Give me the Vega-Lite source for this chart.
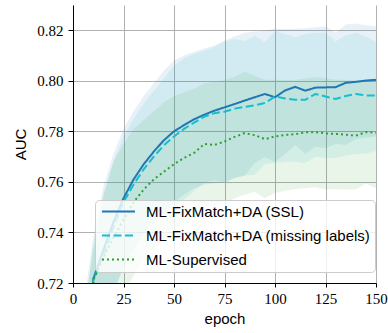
{
"$schema": "https://vega.github.io/schema/vega-lite/v6.json",
"width": 303, "height": 278,
"autosize": "none",
"padding": {"left": 73, "top": 5, "right": 12, "bottom": 50},
"config": {"view": {"stroke": null}, "font": "Liberation Sans",
 "axis": {"labelFont": "Liberation Serif", "labelFontSize": 15, "labelColor": "#000", "tickColor": "#000", "domainColor": "#000", "domainWidth": 1, "tickWidth": 1, "tickSize": 4, "labelPadding": 4, "gridColor": "#b0b0b0", "gridWidth": 1, "gridOpacity": 1, "titleFont": "Liberation Sans", "titleFontSize": 15, "titleFontWeight": "normal", "titleColor": "#000"},
 "legend": {"fillColor": "rgba(255,255,255,0.8)", "strokeColor": "#cccccc", "cornerRadius": 4, "padding": 4, "symbolType": "M-4,0L4,0", "symbolSize": 68, "symbolStrokeWidth": 2, "symbolOffset": 12, "labelFont": "Liberation Sans", "labelFontSize": 15, "labelColor": "#000", "labelOffset": 20, "rowPadding": 8, "labelLimit": 400}},
"datasets": {"d": [
{"e":5,"s":"ML-FixMatch+DA (SSL)","m":0.50,"lo":0.40,"hi":0.71},
{"e":10,"s":"ML-FixMatch+DA (SSL)","m":0.7215,"lo":0.705,"hi":0.738},
{"e":15,"s":"ML-FixMatch+DA (SSL)","m":0.733,"lo":0.708,"hi":0.758},
{"e":20,"s":"ML-FixMatch+DA (SSL)","m":0.744,"lo":0.717,"hi":0.771},
{"e":25,"s":"ML-FixMatch+DA (SSL)","m":0.7535,"lo":0.726,"hi":0.781},
{"e":30,"s":"ML-FixMatch+DA (SSL)","m":0.761,"lo":0.734,"hi":0.788},
{"e":35,"s":"ML-FixMatch+DA (SSL)","m":0.767,"lo":0.740,"hi":0.794},
{"e":40,"s":"ML-FixMatch+DA (SSL)","m":0.772,"lo":0.745,"hi":0.799},
{"e":45,"s":"ML-FixMatch+DA (SSL)","m":0.7765,"lo":0.749,"hi":0.804},
{"e":50,"s":"ML-FixMatch+DA (SSL)","m":0.780,"lo":0.752,"hi":0.808},
{"e":55,"s":"ML-FixMatch+DA (SSL)","m":0.7825,"lo":0.755,"hi":0.810},
{"e":60,"s":"ML-FixMatch+DA (SSL)","m":0.7848,"lo":0.7575,"hi":0.8115},
{"e":65,"s":"ML-FixMatch+DA (SSL)","m":0.7866,"lo":0.759,"hi":0.8128},
{"e":70,"s":"ML-FixMatch+DA (SSL)","m":0.7882,"lo":0.7595,"hi":0.814},
{"e":75,"s":"ML-FixMatch+DA (SSL)","m":0.7895,"lo":0.760,"hi":0.816},
{"e":80,"s":"ML-FixMatch+DA (SSL)","m":0.7908,"lo":0.7615,"hi":0.8175},
{"e":85,"s":"ML-FixMatch+DA (SSL)","m":0.7922,"lo":0.7625,"hi":0.819},
{"e":90,"s":"ML-FixMatch+DA (SSL)","m":0.7935,"lo":0.7675,"hi":0.8195},
{"e":95,"s":"ML-FixMatch+DA (SSL)","m":0.7948,"lo":0.7698,"hi":0.8198},
{"e":100,"s":"ML-FixMatch+DA (SSL)","m":0.7935,"lo":0.768,"hi":0.8206},
{"e":105,"s":"ML-FixMatch+DA (SSL)","m":0.7962,"lo":0.771,"hi":0.8205},
{"e":110,"s":"ML-FixMatch+DA (SSL)","m":0.7976,"lo":0.7746,"hi":0.8206},
{"e":115,"s":"ML-FixMatch+DA (SSL)","m":0.7961,"lo":0.771,"hi":0.8208},
{"e":120,"s":"ML-FixMatch+DA (SSL)","m":0.7973,"lo":0.774,"hi":0.8212},
{"e":125,"s":"ML-FixMatch+DA (SSL)","m":0.7974,"lo":0.7733,"hi":0.8216},
{"e":130,"s":"ML-FixMatch+DA (SSL)","m":0.7975,"lo":0.775,"hi":0.819},
{"e":135,"s":"ML-FixMatch+DA (SSL)","m":0.7992,"lo":0.7746,"hi":0.8223},
{"e":140,"s":"ML-FixMatch+DA (SSL)","m":0.7996,"lo":0.777,"hi":0.8227},
{"e":145,"s":"ML-FixMatch+DA (SSL)","m":0.8001,"lo":0.7775,"hi":0.822},
{"e":150,"s":"ML-FixMatch+DA (SSL)","m":0.8004,"lo":0.778,"hi":0.8216},
{"e":5,"s":"ML-FixMatch+DA (missing labels)","m":0.50,"lo":0.40,"hi":0.705},
{"e":10,"s":"ML-FixMatch+DA (missing labels)","m":0.721,"lo":0.707,"hi":0.735},
{"e":15,"s":"ML-FixMatch+DA (missing labels)","m":0.731,"lo":0.707,"hi":0.755},
{"e":20,"s":"ML-FixMatch+DA (missing labels)","m":0.742,"lo":0.716,"hi":0.768},
{"e":25,"s":"ML-FixMatch+DA (missing labels)","m":0.752,"lo":0.726,"hi":0.778},
{"e":30,"s":"ML-FixMatch+DA (missing labels)","m":0.759,"lo":0.733,"hi":0.785},
{"e":35,"s":"ML-FixMatch+DA (missing labels)","m":0.765,"lo":0.739,"hi":0.791},
{"e":40,"s":"ML-FixMatch+DA (missing labels)","m":0.770,"lo":0.744,"hi":0.796},
{"e":45,"s":"ML-FixMatch+DA (missing labels)","m":0.7745,"lo":0.748,"hi":0.801},
{"e":50,"s":"ML-FixMatch+DA (missing labels)","m":0.778,"lo":0.750,"hi":0.806},
{"e":55,"s":"ML-FixMatch+DA (missing labels)","m":0.781,"lo":0.753,"hi":0.809},
{"e":60,"s":"ML-FixMatch+DA (missing labels)","m":0.7835,"lo":0.7565,"hi":0.8105},
{"e":65,"s":"ML-FixMatch+DA (missing labels)","m":0.7858,"lo":0.7596,"hi":0.812},
{"e":70,"s":"ML-FixMatch+DA (missing labels)","m":0.7872,"lo":0.7609,"hi":0.8135},
{"e":75,"s":"ML-FixMatch+DA (missing labels)","m":0.7878,"lo":0.7595,"hi":0.8155},
{"e":80,"s":"ML-FixMatch+DA (missing labels)","m":0.789,"lo":0.7615,"hi":0.8165},
{"e":85,"s":"ML-FixMatch+DA (missing labels)","m":0.7897,"lo":0.7625,"hi":0.8158},
{"e":90,"s":"ML-FixMatch+DA (missing labels)","m":0.7903,"lo":0.7628,"hi":0.8178},
{"e":95,"s":"ML-FixMatch+DA (missing labels)","m":0.7912,"lo":0.7671,"hi":0.8153},
{"e":100,"s":"ML-FixMatch+DA (missing labels)","m":0.7938,"lo":0.7675,"hi":0.8198},
{"e":105,"s":"ML-FixMatch+DA (missing labels)","m":0.793,"lo":0.768,"hi":0.8185},
{"e":110,"s":"ML-FixMatch+DA (missing labels)","m":0.7925,"lo":0.768,"hi":0.8172},
{"e":115,"s":"ML-FixMatch+DA (missing labels)","m":0.7925,"lo":0.7675,"hi":0.8185},
{"e":120,"s":"ML-FixMatch+DA (missing labels)","m":0.7948,"lo":0.770,"hi":0.819},
{"e":125,"s":"ML-FixMatch+DA (missing labels)","m":0.7938,"lo":0.7695,"hi":0.819},
{"e":130,"s":"ML-FixMatch+DA (missing labels)","m":0.7928,"lo":0.7695,"hi":0.8156},
{"e":135,"s":"ML-FixMatch+DA (missing labels)","m":0.794,"lo":0.7705,"hi":0.818},
{"e":140,"s":"ML-FixMatch+DA (missing labels)","m":0.7948,"lo":0.771,"hi":0.819},
{"e":145,"s":"ML-FixMatch+DA (missing labels)","m":0.7942,"lo":0.7712,"hi":0.8175},
{"e":150,"s":"ML-FixMatch+DA (missing labels)","m":0.7942,"lo":0.7722,"hi":0.8156},
{"e":5,"s":"ML-Supervised","m":0.50,"lo":0.40,"hi":0.705},
{"e":10,"s":"ML-Supervised","m":0.721,"lo":0.709,"hi":0.733},
{"e":15,"s":"ML-Supervised","m":0.730,"lo":0.706,"hi":0.754},
{"e":20,"s":"ML-Supervised","m":0.738,"lo":0.708,"hi":0.768},
{"e":25,"s":"ML-Supervised","m":0.745,"lo":0.715,"hi":0.775},
{"e":30,"s":"ML-Supervised","m":0.752,"lo":0.723,"hi":0.781},
{"e":35,"s":"ML-Supervised","m":0.757,"lo":0.7295,"hi":0.7845},
{"e":40,"s":"ML-Supervised","m":0.761,"lo":0.734,"hi":0.788},
{"e":45,"s":"ML-Supervised","m":0.764,"lo":0.7365,"hi":0.7915},
{"e":50,"s":"ML-Supervised","m":0.767,"lo":0.740,"hi":0.794},
{"e":55,"s":"ML-Supervised","m":0.7695,"lo":0.7435,"hi":0.7955},
{"e":60,"s":"ML-Supervised","m":0.7715,"lo":0.746,"hi":0.797},
{"e":65,"s":"ML-Supervised","m":0.775,"lo":0.751,"hi":0.799},
{"e":70,"s":"ML-Supervised","m":0.7746,"lo":0.7497,"hi":0.7995},
{"e":75,"s":"ML-Supervised","m":0.776,"lo":0.7517,"hi":0.8003},
{"e":80,"s":"ML-Supervised","m":0.7778,"lo":0.7535,"hi":0.8015},
{"e":85,"s":"ML-Supervised","m":0.7793,"lo":0.7549,"hi":0.8037},
{"e":90,"s":"ML-Supervised","m":0.7785,"lo":0.7561,"hi":0.802},
{"e":95,"s":"ML-Supervised","m":0.7769,"lo":0.7535,"hi":0.8004},
{"e":100,"s":"ML-Supervised","m":0.778,"lo":0.7556,"hi":0.8004},
{"e":105,"s":"ML-Supervised","m":0.7786,"lo":0.7565,"hi":0.8002},
{"e":110,"s":"ML-Supervised","m":0.7789,"lo":0.7572,"hi":0.8004},
{"e":115,"s":"ML-Supervised","m":0.7796,"lo":0.7575,"hi":0.8008},
{"e":120,"s":"ML-Supervised","m":0.7797,"lo":0.7579,"hi":0.8015},
{"e":125,"s":"ML-Supervised","m":0.7792,"lo":0.757,"hi":0.801},
{"e":130,"s":"ML-Supervised","m":0.779,"lo":0.7572,"hi":0.8004},
{"e":135,"s":"ML-Supervised","m":0.7787,"lo":0.757,"hi":0.8004},
{"e":140,"s":"ML-Supervised","m":0.7783,"lo":0.757,"hi":0.8002},
{"e":145,"s":"ML-Supervised","m":0.7797,"lo":0.7594,"hi":0.8005},
{"e":150,"s":"ML-Supervised","m":0.7795,"lo":0.7575,"hi":0.8004}
]},
"data": {"name": "d"},
"encoding": {
 "x": {"field": "e", "type": "quantitative", "title": "epoch",
  "scale": {"domain": [0, 150], "nice": false, "zero": false},
  "axis": {"values": [0,25,50,75,100,125,150], "labelFlush": false, "titlePadding": 5}},
 "y": {"field": "lo", "type": "quantitative", "title": "AUC",
    "scale": {"domain": [0.72, 0.83], "nice": false, "zero": false},
    "axis": {"values": [0.72,0.74,0.76,0.78,0.80,0.82], "format": ".2f", "tickSize": 5, "labelPadding": 5, "titlePadding": 8}}
},
"layer": [
 {"transform": [{"filter": "datum.s === 'ML-FixMatch+DA (SSL)'"}],
  "mark": {"type": "area", "color": "#1f77b4", "fillOpacity": 0.1, "clip": true},
  "encoding": {"y2": {"field": "hi"}}},
 {"transform": [{"filter": "datum.s === 'ML-FixMatch+DA (missing labels)'"}],
  "mark": {"type": "area", "color": "#17becf", "fillOpacity": 0.1, "clip": true},
  "encoding": {"y2": {"field": "hi"}}},
 {"transform": [{"filter": "datum.s === 'ML-Supervised'"}],
  "mark": {"type": "area", "color": "#2ca02c", "fillOpacity": 0.1, "clip": true},
  "encoding": {"y2": {"field": "hi"}}},
 {"mark": {"type": "line", "strokeWidth": 2, "clip": true},
  "encoding": {
   "y": {"field": "m", "type": "quantitative"},
   "color": {"field": "s", "type": "nominal",
    "scale": {"domain": ["ML-FixMatch+DA (SSL)", "ML-FixMatch+DA (missing labels)", "ML-Supervised"], "range": ["#1f77b4", "#17becf", "#2ca02c"]},
    "legend": {"title": null, "orient": "none", "legendX": 22, "legendY": 195}},
   "strokeDash": {"field": "s", "type": "nominal",
    "scale": {"domain": ["ML-FixMatch+DA (SSL)", "ML-FixMatch+DA (missing labels)", "ML-Supervised"], "range": [[1,0],[8,3.5],[2,3]]},
    "legend": {"title": null, "orient": "none", "legendX": 22, "legendY": 195}}
  }}
]
}
